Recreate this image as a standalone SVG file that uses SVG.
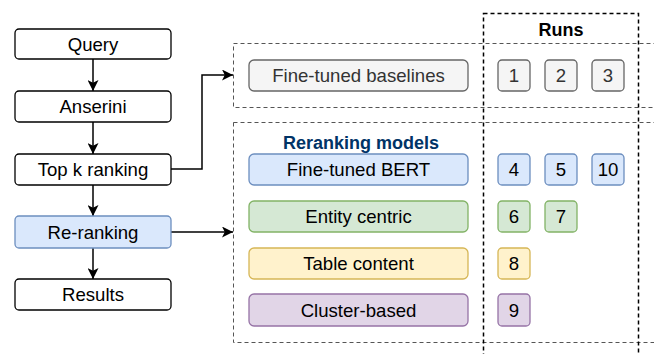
<svg xmlns="http://www.w3.org/2000/svg" width="654" height="354" viewBox="0 0 654 354">
<defs>
<marker id="arr" viewBox="0 0 10 10" refX="10" refY="5" markerWidth="11" markerHeight="11" markerUnits="userSpaceOnUse" orient="auto">
<path d="M0,0 L10,5 L0,10 L2.5,5 Z" fill="#000"/>
</marker>
<style>
text{font-family:"Liberation Sans",Arial,sans-serif;font-size:18.6px;fill:#000;text-anchor:middle;dominant-baseline:central}
.n rect{stroke-width:1.3}
.w{fill:#fff;stroke:#000}
.g{fill:#f5f5f5;stroke:#666}
.b{fill:#dae8fc;stroke:#6c8ebf}
.gr{fill:#d5e8d4;stroke:#82b366}
.y{fill:#fff2cc;stroke:#d6b656}
.p{fill:#e1d5e7;stroke:#9673a6}
.gt{fill:#333}
.dash{fill:none;stroke:#555;stroke-width:1;stroke-dasharray:4 3}
.dashk{fill:none;stroke:#000;stroke-width:1.5;stroke-dasharray:4 3}
.c{fill:none;stroke:#000;stroke-width:1.5}
.bold{font-weight:bold}
</style>
</defs>
<g id="containers">
<rect id="baselines-group" class="dash" x="233.5" y="43.5" width="440" height="64"/>
<rect id="reranking-group" class="dash" x="233.5" y="122.5" width="440" height="220"/>
<rect id="runs-group" class="dashk" x="483.5" y="13.5" width="155" height="360"/>
<text class="bold" x="561" y="30" style="font-size:18px">Runs</text>
<text class="bold" x="361" y="143" style="font-size:18px;fill:#003366">Reranking models</text>
</g>
<g id="connectors">
<line class="c" x1="93" y1="59" x2="93" y2="91" marker-end="url(#arr)"/>
<line class="c" x1="93" y1="122" x2="93" y2="154" marker-end="url(#arr)"/>
<line class="c" x1="93" y1="185" x2="93" y2="216" marker-end="url(#arr)"/>
<line class="c" x1="93" y1="248" x2="93" y2="279" marker-end="url(#arr)"/>
<polyline class="c" points="171,169 202,169 202,75 233,75" marker-end="url(#arr)"/>
<line class="c" x1="171" y1="232" x2="233" y2="232" marker-end="url(#arr)"/>
</g>
<g id="query" class="n"><rect class="w" x="15" y="29" width="156" height="30" rx="4"/><text x="93" y="44">Query</text></g>
<g id="anserini" class="n"><rect class="w" x="15" y="91" width="156" height="31" rx="4"/><text x="93" y="106.5">Anserini</text></g>
<g id="topk" class="n"><rect class="w" x="15" y="154" width="156" height="31" rx="4"/><text x="93" y="169.5">Top k ranking</text></g>
<g id="reranking" class="n"><rect class="b" x="15" y="216" width="156" height="32" rx="4"/><text x="93" y="232">Re-ranking</text></g>
<g id="results" class="n"><rect class="w" x="15" y="279" width="156" height="31" rx="4"/><text x="93" y="294.5">Results</text></g>

<g id="fine-tuned-baselines" class="n"><rect class="g" x="249" y="60" width="219" height="31" rx="5"/><text class="gt" x="358.5" y="75.5">Fine-tuned baselines</text></g>
<g id="fine-tuned-bert" class="n"><rect class="b" x="249" y="154" width="219" height="31" rx="5"/><text x="358.5" y="169.5">Fine-tuned BERT</text></g>
<g id="entity-centric" class="n"><rect class="gr" x="249" y="201" width="219" height="31" rx="5"/><text x="358.5" y="216.5">Entity centric</text></g>
<g id="table-content" class="n"><rect class="y" x="249" y="248" width="219" height="31" rx="5"/><text x="358.5" y="263.5">Table content</text></g>
<g id="cluster-based" class="n"><rect class="p" x="249" y="294" width="219" height="32" rx="5"/><text x="358.5" y="310">Cluster-based</text></g>

<g id="run1" class="n"><rect class="g" x="498" y="60" width="32" height="31" rx="4"/><text class="gt" x="514" y="75.5">1</text></g>
<g id="run2" class="n"><rect class="g" x="545" y="60" width="32" height="31" rx="4"/><text class="gt" x="561" y="75.5">2</text></g>
<g id="run3" class="n"><rect class="g" x="592" y="60" width="32" height="31" rx="4"/><text class="gt" x="608" y="75.5">3</text></g>
<g id="run4" class="n"><rect class="b" x="498" y="154" width="32" height="31" rx="4"/><text x="514" y="169.5">4</text></g>
<g id="run5" class="n"><rect class="b" x="545" y="154" width="32" height="31" rx="4"/><text x="561" y="169.5">5</text></g>
<g id="run10" class="n"><rect class="b" x="592" y="154" width="32" height="31" rx="4"/><text x="608" y="169.5">10</text></g>
<g id="run6" class="n"><rect class="gr" x="498" y="201" width="32" height="31" rx="4"/><text x="514" y="216.5">6</text></g>
<g id="run7" class="n"><rect class="gr" x="545" y="201" width="32" height="31" rx="4"/><text x="561" y="216.5">7</text></g>
<g id="run8" class="n"><rect class="y" x="498" y="248" width="32" height="31" rx="4"/><text x="514" y="263.5">8</text></g>
<g id="run9" class="n"><rect class="p" x="498" y="294" width="32" height="32" rx="4"/><text x="514" y="310">9</text></g>
</svg>
